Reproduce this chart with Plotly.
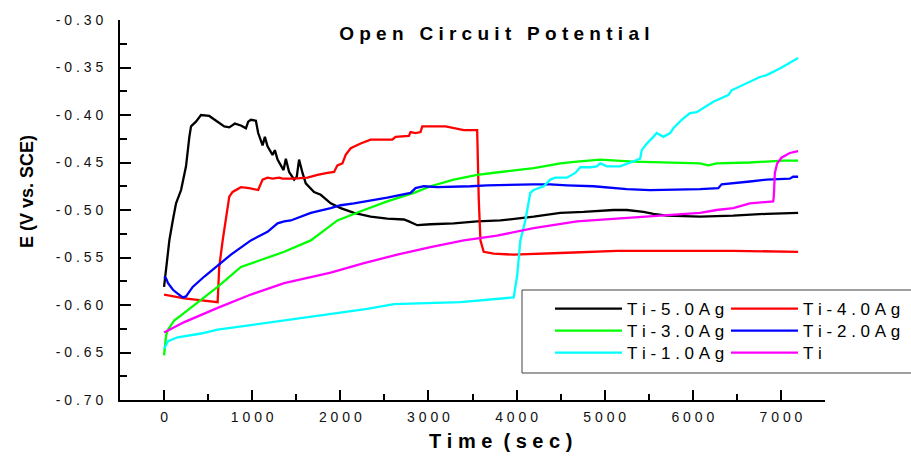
import plotly.graph_objects as go

# ---------------- data ----------------
series_names = ["Ti-5.0Ag", "Ti-4.0Ag", "Ti-3.0Ag", "Ti-2.0Ag", "Ti-1.0Ag", "Ti"]
series_colors = ["#000000", "#ff0000", "#00ff00", "#0000ff", "#00ffff", "#ff00ff"]

t_ti5 = [0, 23, 60, 99, 136, 193, 249, 287, 306, 362, 419, 513, 608, 683, 740, 804, 872, 929, 955, 985,
         1042, 1068, 1118, 1144, 1174, 1231, 1257, 1288, 1356, 1382, 1419, 1476, 1506, 1532, 1571, 1608,
         1702, 1778, 1891, 2004, 2155, 2344, 2533, 2721, 2778, 2873, 3024, 3288, 3553, 3817, 4194, 4496,
         4760, 5100, 5251, 5440, 5553, 5704, 6082, 6459, 6837, 7195]
e_ti5 = [-0.581, -0.560, -0.532, -0.511, -0.493, -0.479, -0.454, -0.423, -0.412, -0.407, -0.400, -0.401,
         -0.407, -0.412, -0.413, -0.409, -0.411, -0.414, -0.407, -0.405, -0.406, -0.419, -0.432, -0.423,
         -0.433, -0.442, -0.437, -0.447, -0.458, -0.446, -0.460, -0.468, -0.465, -0.447, -0.461, -0.472,
         -0.481, -0.484, -0.493, -0.498, -0.503, -0.507, -0.509, -0.510, -0.512, -0.516, -0.515, -0.514,
         -0.512, -0.511, -0.507, -0.503, -0.502, -0.500, -0.500, -0.502, -0.504, -0.506, -0.507, -0.506,
         -0.504, -0.503]

t_ti4 = [0, 230, 608, 626, 665, 702, 740, 778, 872, 966, 1068, 1118, 1174, 1231, 1306, 1344, 1476, 1627,
         1741, 1854, 1929, 1967, 2024, 2061, 2118, 2231, 2344, 2590, 2627, 2778, 2797, 2854, 2910, 2930,
         3194, 3401, 3553, 3571, 3590, 3627, 3741, 3967, 4194, 4572, 5138, 6459, 7195]
e_ti4 = [-0.589, -0.593, -0.597, -0.560, -0.532, -0.507, -0.486, -0.481, -0.476, -0.477, -0.479, -0.468,
         -0.466, -0.467, -0.466, -0.467, -0.467, -0.466, -0.463, -0.461, -0.460, -0.453, -0.451, -0.442,
         -0.435, -0.430, -0.426, -0.426, -0.423, -0.422, -0.418, -0.419, -0.418, -0.412, -0.412, -0.416,
         -0.416, -0.489, -0.532, -0.544, -0.546, -0.547, -0.546, -0.545, -0.543, -0.543, -0.544]

t_ti3 = [0, 23, 45, 117, 193, 344, 608, 872, 1061, 1363, 1665, 1854, 1967, 2269, 2533, 2835, 3024, 3288,
         3553, 3817, 4006, 4194, 4307, 4496, 4685, 4949, 5326, 5704, 6082, 6176, 6270, 6648, 7025, 7195]
e_ti3 = [-0.653, -0.632, -0.626, -0.616, -0.611, -0.600, -0.581, -0.560, -0.554, -0.544, -0.532, -0.519,
         -0.511, -0.500, -0.491, -0.482, -0.475, -0.468, -0.463, -0.460, -0.458, -0.456, -0.454, -0.451,
         -0.449, -0.447, -0.449, -0.450, -0.451, -0.453, -0.451, -0.450, -0.448, -0.448]

t_ti2 = [0, 23, 45, 101, 155, 212, 249, 325, 457, 645, 759, 985, 1174, 1288, 1363, 1438, 1665, 1891, 2004,
         2155, 2533, 2797, 2854, 2948, 3099, 3477, 3666, 4194, 4383, 4572, 4874, 5251, 5515, 6082, 6289,
         6327, 6459, 6648, 6837, 7100, 7138, 7195]
e_ti2 = [-0.570, -0.572, -0.577, -0.584, -0.588, -0.592, -0.591, -0.581, -0.570, -0.556, -0.547, -0.532,
         -0.523, -0.514, -0.512, -0.511, -0.503, -0.498, -0.495, -0.493, -0.487, -0.482, -0.477, -0.475,
         -0.476, -0.475, -0.474, -0.473, -0.473, -0.474, -0.475, -0.478, -0.479, -0.478, -0.477, -0.473,
         -0.472, -0.470, -0.468, -0.467, -0.465, -0.465]

t_ti1 = [0, 45, 155, 419, 608, 985, 1514, 1891, 2306, 2608, 3061, 3363, 3967, 4006, 4043, 4100, 4156,
         4194, 4307, 4383, 4439, 4572, 4666, 4723, 4836, 4911, 4949, 5025, 5176, 5326, 5402, 5421, 5478,
         5553, 5591, 5666, 5742, 5779, 5874, 5968, 6044, 6232, 6402, 6440, 6534, 6761, 6837, 6988, 7195]
e_ti1 = [-0.646, -0.638, -0.634, -0.630, -0.626, -0.621, -0.614, -0.609, -0.604, -0.599, -0.598, -0.597,
         -0.592, -0.570, -0.532, -0.511, -0.482, -0.479, -0.475, -0.468, -0.466, -0.466, -0.461, -0.455,
         -0.455, -0.454, -0.451, -0.454, -0.454, -0.449, -0.446, -0.437, -0.430, -0.423, -0.419, -0.423,
         -0.419, -0.414, -0.405, -0.398, -0.397, -0.386, -0.379, -0.374, -0.370, -0.360, -0.358, -0.351,
         -0.340]

t_ti = [0, 230, 608, 985, 1363, 1891, 2269, 2646, 3024, 3401, 3779, 4194, 4685, 5138, 5515, 5893, 6082,
        6270, 6459, 6648, 6912, 6919, 6931, 6957, 7006, 7100, 7195]
e_ti = [-0.629, -0.618, -0.603, -0.589, -0.577, -0.566, -0.556, -0.547, -0.539, -0.532, -0.527, -0.519,
        -0.512, -0.509, -0.506, -0.504, -0.503, -0.500, -0.498, -0.493, -0.491, -0.486, -0.461, -0.451,
        -0.445, -0.440, -0.438]

x_tickvals = [0, 1000, 2000, 3000, 4000, 5000, 6000, 7000]
y_tickvals = [-0.70, -0.65, -0.60, -0.55, -0.50, -0.45, -0.40, -0.35, -0.30]

title_text = "Open Circuit Potential"
x_title_text = "Time (sec)"
y_title_text = "E (V vs. SCE)"

# ---------------- helpers ----------------
NB = "\u00a0"


def spaced(s, word_gap=3):
    words = s.split(" ")
    return (NB * word_gap).join(NB.join(w) for w in words)


FONT = "Liberation Sans, Arial, sans-serif"
W, H = 911, 457
ML, MR, MT, MB = 120, 86, 20, 57
PW, PH = W - ML - MR, H - MT - MB


def px_x(p):
    return (p - ML) / PW


def px_y(p):
    return (H - MB - p) / PH


all_t = [t_ti5, t_ti4, t_ti3, t_ti2, t_ti1, t_ti]
all_e = [e_ti5, e_ti4, e_ti3, e_ti2, e_ti1, e_ti]

# legend layout: 2 columns x 3 rows, one legend per entry
legend_ids = ["legend", "legend2", "legend3", "legend4", "legend5", "legend6"]
col_left = [550, 726]
row_mid = [309, 331, 353]

fig = go.Figure()
for i, (name, color, tt, ee) in enumerate(zip(series_names, series_colors, all_t, all_e)):
    fig.add_trace(go.Scatter(x=tt, y=ee, mode="lines", name=spaced(name),
                             line=dict(color=color, width=2.3), legend=legend_ids[i]))

legend_layout = {}
for i, lid in enumerate(legend_ids):
    r, c = divmod(i, 2)
    legend_layout[lid] = dict(
        x=px_x(col_left[c]), xanchor="left", y=px_y(row_mid[r]), yanchor="middle",
        bgcolor="rgba(0,0,0,0)", borderwidth=0, itemwidth=67,
        font=dict(size=17, family=FONT, color="#000000"),
    )

fig.update_layout(
    width=W, height=H,
    margin=dict(l=ML, r=MR, t=MT, b=MB, autoexpand=False),
    paper_bgcolor="white", plot_bgcolor="white",
    font=dict(family=FONT, color="#000000"),
    title=dict(text="<b>" + spaced(title_text) + "</b>", font=dict(size=19, family=FONT),
               xref="paper", x=0.531, xanchor="center", yref="container", y=1 - 33 / H,
               yanchor="middle"),
    showlegend=True,
    **legend_layout,
)

# legend frame
fig.add_shape(type="rect", xref="paper", yref="paper",
              x0=px_x(522), x1=px_x(913), y0=px_y(373), y1=px_y(290),
              line=dict(color="#404040", width=1), fillcolor="white", layer="below")

fig.update_xaxes(
    range=[-500, 7500], showgrid=False, zeroline=False,
    showline=True, linecolor="black", linewidth=2,
    ticks="inside", ticklen=10, tickwidth=2, tickcolor="black",
    tickmode="array", tickvals=x_tickvals, ticktext=[spaced(str(v)) for v in x_tickvals],
    tickfont=dict(size=14, family=FONT, color="#111111"),
    ticklabelstandoff=3,
    minor=dict(ticks="inside", ticklen=6, tickwidth=2, tickcolor="black", dtick=500, tick0=0),
)
fig.update_yaxes(
    range=[-0.70, -0.30], showgrid=False, zeroline=False,
    showline=True, linecolor="black", linewidth=2,
    ticks="inside", ticklen=11, tickwidth=2, tickcolor="black",
    tickmode="array", tickvals=y_tickvals, ticktext=[spaced(f"{v:.2f}") for v in y_tickvals],
    tickfont=dict(size=14, family=FONT, color="#111111"),
    ticklabelstandoff=12,
    minor=dict(ticks="inside", ticklen=7, tickwidth=2, tickcolor="black", dtick=0.025, tick0=-0.70),
)

fig.add_annotation(text="<b>" + spaced(x_title_text, word_gap=2) + "</b>", xref="paper", yref="paper",
                   x=px_x(500), y=px_y(441), xanchor="center", yanchor="middle",
                   showarrow=False, font=dict(size=20, family=FONT, color="#000000"))
fig.add_annotation(text="<b>" + y_title_text + "</b>", xref="paper", yref="paper",
                   x=px_x(27), y=px_y(192), xanchor="center", yanchor="middle",
                   textangle=-90, showarrow=False, font=dict(size=18, family=FONT, color="#000000"))

fig.write_html("out.html")
